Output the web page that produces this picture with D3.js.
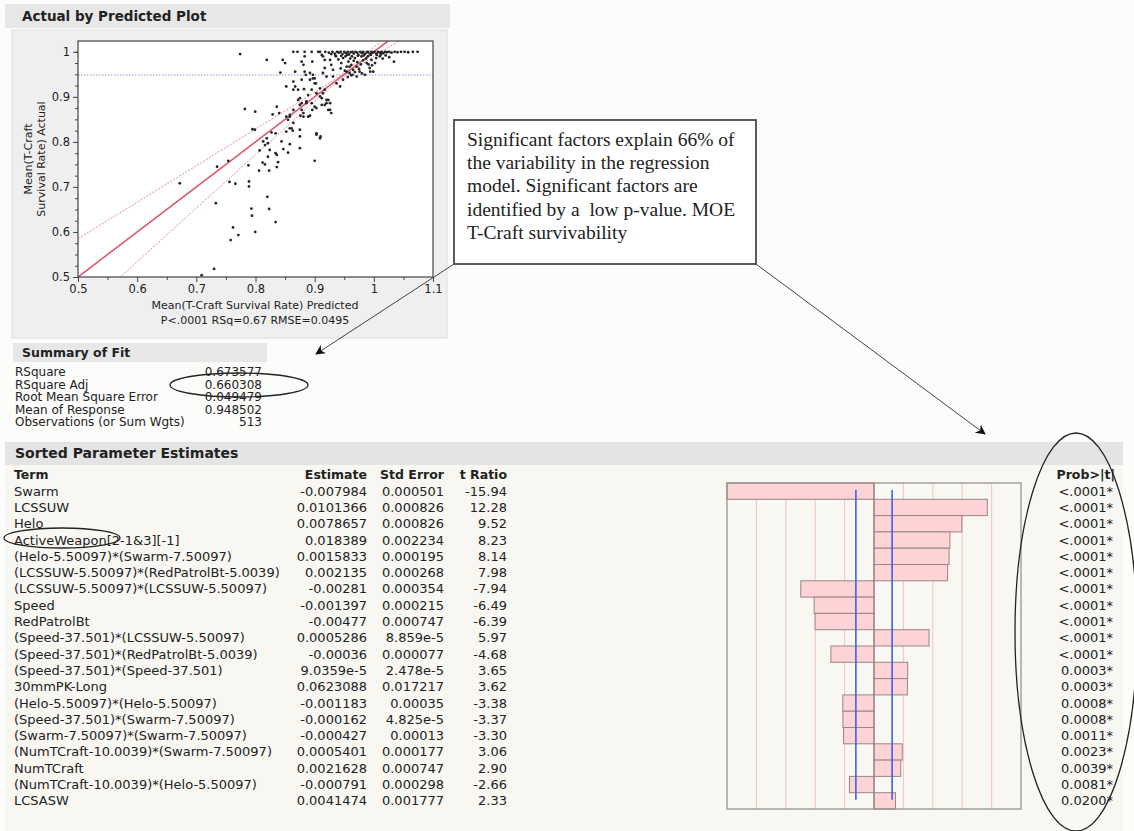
<!DOCTYPE html>
<html>
<head>
<meta charset="utf-8">
<script src="https://cdn.jsdelivr.net/npm/d3@7"></script>
<style>
  body { margin: 0; background: #fcfcfa; }
  text { font-family: "DejaVu Sans", sans-serif; fill: #222; }
</style>
</head>
<body>
<svg id="chart" width="1134" height="831"></svg>
<script>
// ---- data ----
var scatterPoints = [
  [.782,.873],[.7995,.867],[.836,.878],[.829,.861],[.840,.864],[.852,.856],[.855,.849],[.864,.871],[.875,.882],[.881,.856],
  [.892,.858],[.876,.858],[.886,.890],[.895,.886],[.903,.875],[.912,.882],[.920,.886],[.926,.871],[.928,.864],
  [.795,.828],[.799,.827],[.827,.821],[.834,.819],[.852,.823],[.858,.830],[.863,.825],[.875,.812],[.903,.819],[.910,.812],
  [.819,.808],[.813,.801],[.816,.793],[.821,.797],[.844,.801],[.858,.795],[.875,.786],[.807,.781],[.824,.782],[.834,.775],
  [.847,.784],[.855,.776],[.836,.771],[.900,.758],[.812,.754],[.816,.750],[.821,.767],[.838,.755],[.788,.748],[.806,.736],
  [.823,.736],[.836,.744],[.735,.745],[.754,.758],[.672,.708],[.756,.711],[.766,.707],[.789,.712],[.789,.701],
  [.733,.664],[.820,.678],[.823,.651],[.793,.652],[.794,.636],[.834,.622],[.762,.610],[.771,.593],[.7995,.600],[.758,.582],
  [.730,.518],[.709,.504],
  [.774,.995],[.819,.982],[.846,.982],[.850,.975],[.842,.954],[.864,1.0],[.871,1.0],[.878,.978],[.883,.990],[.867,.956],
  [.878,.938],[.885,.949],[.892,.938],[.896,.978],[.906,1.0],[.912,.993],[.917,.982],[.852,.923],[.864,.934],[.864,.916],
  [.872,.893],[.882,.917],[.889,.904],[.897,.941],[.902,.930],[.909,.901],[.917,.916],[.923,.893],[.931,.945],[.937,.930],
  [.943,.923],[.948,.938],[.954,.956],[.959,.967],[.964,.949],[.900,.878],[.896,.871],[.881,.864],[.858,.860],[.878,.886],
  [.917,.882],[.883,1.0],[.895,1.0],[.909,1.0],[.881,.971],[.914,.990],[.926,.982],[.928,.971],[.931,.960],[.917,.964],
  [.914,.953],[.920,.945],[.883,.956],[.892,.953],[.897,.949],[.900,.941],[.867,.923],[.872,.916],[.900,.930],[.895,.916],
  [.903,.908],[.909,.919],[.914,.908],[.912,.897],[.920,.893],[.926,.886],[.923,.871],[.875,.897],[.886,.886],[.878,.871],
  [.889,.856],[.858,.856],[.864,.842],[.875,.827],[.903,.816],[.909,.808],[.861,.830],
  [.948,.986],[.957,.978],[.962,.971],[.971,.967],[.965,.960],[.976,.956],[.959,.953],[.988,.975],[.996,.982],[.993,.964],
  [.985,.949],[.971,.945],[.954,.967],[.945,.975],[1.004,.986],[1.010,.990],[.979,.990],[.968,.986],[.999,.956],[.990,.990],
  [1.034,.978],[.994,.956],[.952,.990],[.960,.985],[.966,.980],[.972,.977],[.978,.972],[.982,.981],[.987,.985],[.975,.962],
  [.968,.955],[.962,.948],[.956,.944],[.980,.952],[.991,.972],[.997,.970],[1.002,.975],[1.015,.985],[1.020,.992],[1.026,.988],
  [.940,.983],[.936,.990],[.944,.963],[.951,.958],
  [.918,1.0],[.924,.998],[.930,1.0],[.934,.996],[.938,1.0],[.941,.998],[.944,1.0],[.947,.995],[.950,1.0],[.953,.997],
  [.956,1.0],[.958,.994],[.961,.999],[.964,1.0],[.966,.996],[.969,1.0],[.972,.998],[.974,.993],[.977,1.0],[.980,.997],
  [.982,1.0],[.985,.995],[.988,.999],[.990,1.0],[.993,.996],[.996,1.0],[.998,.998],[1.001,1.0],[1.004,.996],[1.007,1.0],
  [1.010,.998],[1.013,1.0],[1.016,.997],[1.019,1.0],[1.022,.999],[1.026,1.0],[1.030,.998],[1.035,1.0],[1.040,.999],[1.046,1.0],
  [1.052,1.0],[1.058,.999],[1.066,1.0],[1.074,1.0],
  [.935,.992],[.945,.991],[.955,.993],[.963,.990],[.973,.991],[.983,.992],[.995,.993],[1.005,.993],[1.012,.994],[.928,.995]
];
var fitLine = [[0.5, 0.5], [1.1, 1.1]];
var confUpper = [[0.5,.585],[0.6,.666],[0.7,.747],[0.8,.8285],[0.85,.869],[0.9,.910],[0.95,.954],[1.0,1.0106],[1.05,1.070],[1.1,1.129]];
var confLower = [[0.5,.415],[0.6,.534],[0.7,.653],[0.8,.7715],[0.85,.831],[0.9,.890],[0.95,.946],[1.0,.9894],[1.05,1.0303],[1.1,1.071]];
var meanResponse = 0.948502;
var xTicks = [0.5, 0.6, 0.7, 0.8, 0.9, 1, 1.1];
var yTicks = [0.5, 0.6, 0.7, 0.8, 0.9, 1];

var summaryLabels = ["RSquare", "RSquare Adj", "Root Mean Square Error", "Mean of Response", "Observations (or Sum Wgts)"];
var summaryValues = ["0.673577", "0.660308", "0.049479", "0.948502", "513"];

var terms = ["Swarm", "LCSSUW", "Helo", "ActiveWeapon[2-1&3][-1]", "(Helo-5.50097)*(Swarm-7.50097)",
  "(LCSSUW-5.50097)*(RedPatrolBt-5.0039)", "(LCSSUW-5.50097)*(LCSSUW-5.50097)", "Speed", "RedPatrolBt",
  "(Speed-37.501)*(LCSSUW-5.50097)", "(Speed-37.501)*(RedPatrolBt-5.0039)", "(Speed-37.501)*(Speed-37.501)",
  "30mmPK-Long", "(Helo-5.50097)*(Helo-5.50097)", "(Speed-37.501)*(Swarm-7.50097)", "(Swarm-7.50097)*(Swarm-7.50097)",
  "(NumTCraft-10.0039)*(Swarm-7.50097)", "NumTCraft", "(NumTCraft-10.0039)*(Helo-5.50097)", "LCSASW"];
var estimates = ["-0.007984", "0.0101366", "0.0078657", "0.018389", "0.0015833", "0.002135", "-0.00281", "-0.001397",
  "-0.00477", "0.0005286", "-0.00036", "9.0359e-5", "0.0623088", "-0.001183", "-0.000162", "-0.000427", "0.0005401",
  "0.0021628", "-0.000791", "0.0041474"];
var stdErrors = ["0.000501", "0.000826", "0.000826", "0.002234", "0.000195", "0.000268", "0.000354", "0.000215",
  "0.000747", "8.859e-5", "0.000077", "2.478e-5", "0.017217", "0.00035", "4.825e-5", "0.00013", "0.000177",
  "0.000747", "0.000298", "0.001777"];
var tRatios = [-15.94, 12.28, 9.52, 8.23, 8.14, 7.98, -7.94, -6.49, -6.39, 5.97, -4.68, 3.65, 3.62, -3.38, -3.37, -3.30,
  3.06, 2.90, -2.66, 2.33];
var probs = ["<.0001*", "<.0001*", "<.0001*", "<.0001*", "<.0001*", "<.0001*", "<.0001*", "<.0001*", "<.0001*",
  "<.0001*", "<.0001*", "0.0003*", "0.0003*", "0.0008*", "0.0008*", "0.0011*", "0.0023*", "0.0039*", "0.0081*", "0.0200*"];
var tCritical = 1.965;

var noteLines = ["Significant factors explain 66% of", "the variability in the regression",
  "model. Significant factors are", "identified by a  low p-value. MOE", "T-Craft survivability"];

// ---- setup ----
var svg = d3.select("#chart");

svg.append("defs").append("marker")
    .attr("id", "head")
    .attr("viewBox", "0 0 10 10")
    .attr("refX", 9).attr("refY", 5)
    .attr("markerWidth", 10).attr("markerHeight", 10)
    .attr("markerUnits", "userSpaceOnUse")
    .attr("orient", "auto")
  .append("path")
    .attr("d", "M0,0 L10,5 L0,10 L3,5 Z")
    .attr("fill", "#111");

svg.select("defs").append("clipPath").attr("id", "plotclip")
  .append("rect").attr("x", 78).attr("y", 41).attr("width", 355).attr("height", 236);

// ---- Actual by Predicted panel ----
svg.append("rect").attr("x", 5).attr("y", 4).attr("width", 445).attr("height", 24).attr("fill", "#e7e7e7");
svg.append("text").attr("x", 22).attr("y", 21)
    .style("font-weight", "bold").style("font-size", "13.5px").text("Actual by Predicted Plot");
svg.append("rect").attr("x", 12).attr("y", 30).attr("width", 435).attr("height", 308)
    .attr("fill", "#efefef").attr("stroke", "#dcdcdc");

var x = d3.scaleLinear().domain([0.5, 1.1]).range([78, 433]);
var y = d3.scaleLinear().domain([0.5, 1.024]).range([277, 41]);

svg.append("rect").attr("x", 78).attr("y", 41).attr("width", 355).attr("height", 236).attr("fill", "#fff");

var plot = svg.append("g").attr("clip-path", "url(#plotclip)");

plot.append("line")
    .attr("x1", x(0.5)).attr("x2", x(1.1))
    .attr("y1", y(meanResponse)).attr("y2", y(meanResponse))
    .attr("stroke", "#8c8cf0").attr("stroke-width", 1).attr("stroke-dasharray", "1.5,1.5");

var line = d3.line().x(function(d) { return x(d[0]); }).y(function(d) { return y(d[1]); }).curve(d3.curveMonotoneX);

[confUpper, confLower].forEach(function(c) {
  plot.append("path").attr("d", line(c)).attr("fill", "none")
      .attr("stroke", "#e98a98").attr("stroke-width", 1).attr("stroke-dasharray", "2,1.5");
});
plot.append("path").attr("d", line(fitLine)).attr("fill", "none")
    .attr("stroke", "#dc5a6e").attr("stroke-width", 1.6);

plot.selectAll("circle.pt")
  .data(scatterPoints)
  .enter().append("circle")
    .attr("class", "pt")
    .attr("cx", function(d) { return x(d[0]); })
    .attr("cy", function(d) { return y(d[1]); })
    .attr("r", 1.4)
    .attr("fill", "#262626");

svg.append("rect").attr("x", 78).attr("y", 41).attr("width", 355).attr("height", 236)
    .attr("fill", "none").attr("stroke", "#444").attr("stroke-width", 1.2);

svg.append("g").attr("transform", "translate(0,277)")
    .call(d3.axisBottom(x).tickValues(xTicks).tickSize(5).tickFormat(d3.format("")));
svg.append("g").attr("transform", "translate(0,277)")
    .call(d3.axisBottom(x).tickValues(d3.range(0.55, 1.1, 0.1)).tickSize(3).tickFormat(""));
svg.append("g").attr("transform", "translate(78,0)")
    .call(d3.axisLeft(y).tickValues(yTicks).tickSize(5).tickFormat(d3.format("")));
svg.append("g").attr("transform", "translate(78,0)")
    .call(d3.axisLeft(y).tickValues([0.525,0.55,0.575,0.625,0.65,0.675,0.725,0.75,0.775,0.825,0.85,0.875,0.925,0.95,0.975,1.0]).tickSize(3).tickFormat(""));

svg.selectAll(".domain").remove();
svg.selectAll(".tick line").attr("stroke", "#444");
svg.selectAll(".tick text").style("font-size", "11.5px").attr("fill", "#333");

svg.append("text").attr("x", 255).attr("y", 309).attr("text-anchor", "middle")
    .style("font-size", "11px").text("Mean(T-Craft Survival Rate) Predicted");
svg.append("text").attr("x", 255).attr("y", 324).attr("text-anchor", "middle")
    .style("font-size", "11px").text("P<.0001 RSq=0.67 RMSE=0.0495");
svg.append("text").attr("transform", "translate(32,159) rotate(-90)").attr("text-anchor", "middle")
    .style("font-size", "11px").text("Mean(T-Craft");
svg.append("text").attr("transform", "translate(45,159) rotate(-90)").attr("text-anchor", "middle")
    .style("font-size", "11px").text("Survival Rate) Actual");

// ---- Summary of Fit ----
svg.append("rect").attr("x", 13).attr("y", 343).attr("width", 254).attr("height", 19).attr("fill", "#e7e7e7");
svg.append("text").attr("x", 22).attr("y", 357)
    .style("font-weight", "bold").style("font-size", "12.5px").text("Summary of Fit");

svg.selectAll("text.slab").data(summaryLabels).enter().append("text")
    .attr("class", "slab")
    .attr("x", 15).attr("y", function(d, i) { return 376 + i * 12.6; })
    .style("font-size", "12px").text(function(d) { return d; });
svg.selectAll("text.sval").data(summaryValues).enter().append("text")
    .attr("class", "sval")
    .attr("x", 262).attr("y", function(d, i) { return 376 + i * 12.6; })
    .attr("text-anchor", "end")
    .style("font-size", "12px").text(function(d) { return d; });

// ---- Sorted Parameter Estimates ----
svg.append("rect").attr("x", 5).attr("y", 465).attr("width", 1118).attr("height", 366).attr("fill", "#f8f7f2");
svg.append("rect").attr("x", 5).attr("y", 442).attr("width", 1118).attr("height", 23).attr("fill", "#e4e4e4");
svg.append("text").attr("x", 15).attr("y", 458)
    .style("font-weight", "bold").style("font-size", "14px").text("Sorted Parameter Estimates");

var yRow = d3.scaleBand().domain(terms).range([483, 809]);
var xBar = d3.scaleLinear().domain([-15.94, 15.94]).range([727, 1021]);

var headers = [["Term", 14, "start"], ["Estimate", 367, "end"], ["Std Error", 444, "end"],
  ["t Ratio", 507, "end"], ["Prob>|t|", 1115, "end"]];
svg.selectAll("text.hdr").data(headers).enter().append("text")
    .attr("class", "hdr")
    .attr("x", function(d) { return d[1]; }).attr("y", 479)
    .attr("text-anchor", function(d) { return d[2]; })
    .style("font-weight", "bold").style("font-size", "12.5px")
    .text(function(d) { return d[0]; });

var cols = [[terms, 14, "start"], [estimates, 367, "end"], [stdErrors, 444, "end"],
  [tRatios.map(function(t) { return t.toFixed(2); }), 507, "end"], [probs, 1113, "end"]];
cols.forEach(function(c) {
  svg.append("g").selectAll("text").data(c[0]).enter().append("text")
      .attr("x", c[1])
      .attr("y", function(d, i) { return yRow(terms[i]) + yRow.bandwidth() / 2 + 4.5; })
      .attr("text-anchor", c[2])
      .style("font-size", "13px")
      .text(function(d) { return d; });
});

// bar chart of t ratios
svg.append("rect").attr("x", xBar(-15.94)).attr("y", 483).attr("width", xBar(15.94) - xBar(-15.94)).attr("height", 326)
    .attr("fill", "#f8f7f2");
var gridSteps = [-4, -3, -2, -1, 1, 2, 3, 4];
svg.append("g").selectAll("line").data(gridSteps).enter().append("line")
    .attr("x1", function(d) { return xBar(d * 15.94 / 5); })
    .attr("x2", function(d) { return xBar(d * 15.94 / 5); })
    .attr("y1", 483).attr("y2", 809)
    .attr("stroke", "#f0c4c6").attr("stroke-width", 1);

svg.append("g").selectAll("rect").data(tRatios).enter().append("rect")
    .attr("x", function(d) { return xBar(Math.min(0, d)); })
    .attr("y", function(d, i) { return yRow(terms[i]); })
    .attr("width", function(d) { return Math.abs(xBar(d) - xBar(0)); })
    .attr("height", yRow.bandwidth())
    .attr("fill", "#fdd3d5").attr("stroke", "#9c8584").attr("stroke-width", 1);

svg.append("line").attr("x1", xBar(0)).attr("x2", xBar(0)).attr("y1", 483).attr("y2", 809)
    .attr("stroke", "#8a7a7a").attr("stroke-width", 1);

[-tCritical, tCritical].forEach(function(t) {
  svg.append("line").attr("x1", xBar(t)).attr("x2", xBar(t))
      .attr("y1", yRow(terms[0]) + 7).attr("y2", yRow(terms[terms.length - 1]) + 7)
      .attr("stroke", "#3a62e6").attr("stroke-width", 1.6);
});

svg.append("rect").attr("x", xBar(-15.94)).attr("y", 483).attr("width", xBar(15.94) - xBar(-15.94)).attr("height", 326)
    .attr("fill", "none").attr("stroke", "#8d8d8d").attr("stroke-width", 1.2);

// ---- annotations ----
svg.append("rect").attr("x", 454).attr("y", 120).attr("width", 302).attr("height", 144)
    .attr("fill", "#fff").attr("stroke", "#4a4a4a").attr("stroke-width", 1.8);
svg.selectAll("text.note").data(noteLines).enter().append("text")
    .attr("class", "note")
    .attr("x", 467).attr("y", function(d, i) { return 146 + i * 23.2; })
    .style("font-family", "'Liberation Serif', serif").style("font-size", "19.5px")
    .attr("xml:space", "preserve")
    .text(function(d) { return d; });

svg.append("line").attr("x1", 454).attr("y1", 264).attr("x2", 316).attr("y2", 354)
    .attr("stroke", "#444").attr("stroke-width", 1).attr("marker-end", "url(#head)");
svg.append("line").attr("x1", 756).attr("y1", 264).attr("x2", 985).attr("y2", 434)
    .attr("stroke", "#444").attr("stroke-width", 1).attr("marker-end", "url(#head)");

var ellipses = [[239, 385, 69, 12], [62, 538, 58, 10], [1076, 632, 61, 199]];
svg.append("g").selectAll("ellipse").data(ellipses).enter().append("ellipse")
    .attr("cx", function(d) { return d[0]; }).attr("cy", function(d) { return d[1]; })
    .attr("rx", function(d) { return d[2]; }).attr("ry", function(d) { return d[3]; })
    .attr("fill", "none").attr("stroke", "#222").attr("stroke-width", 1.3);
</script>
</body>
</html>
